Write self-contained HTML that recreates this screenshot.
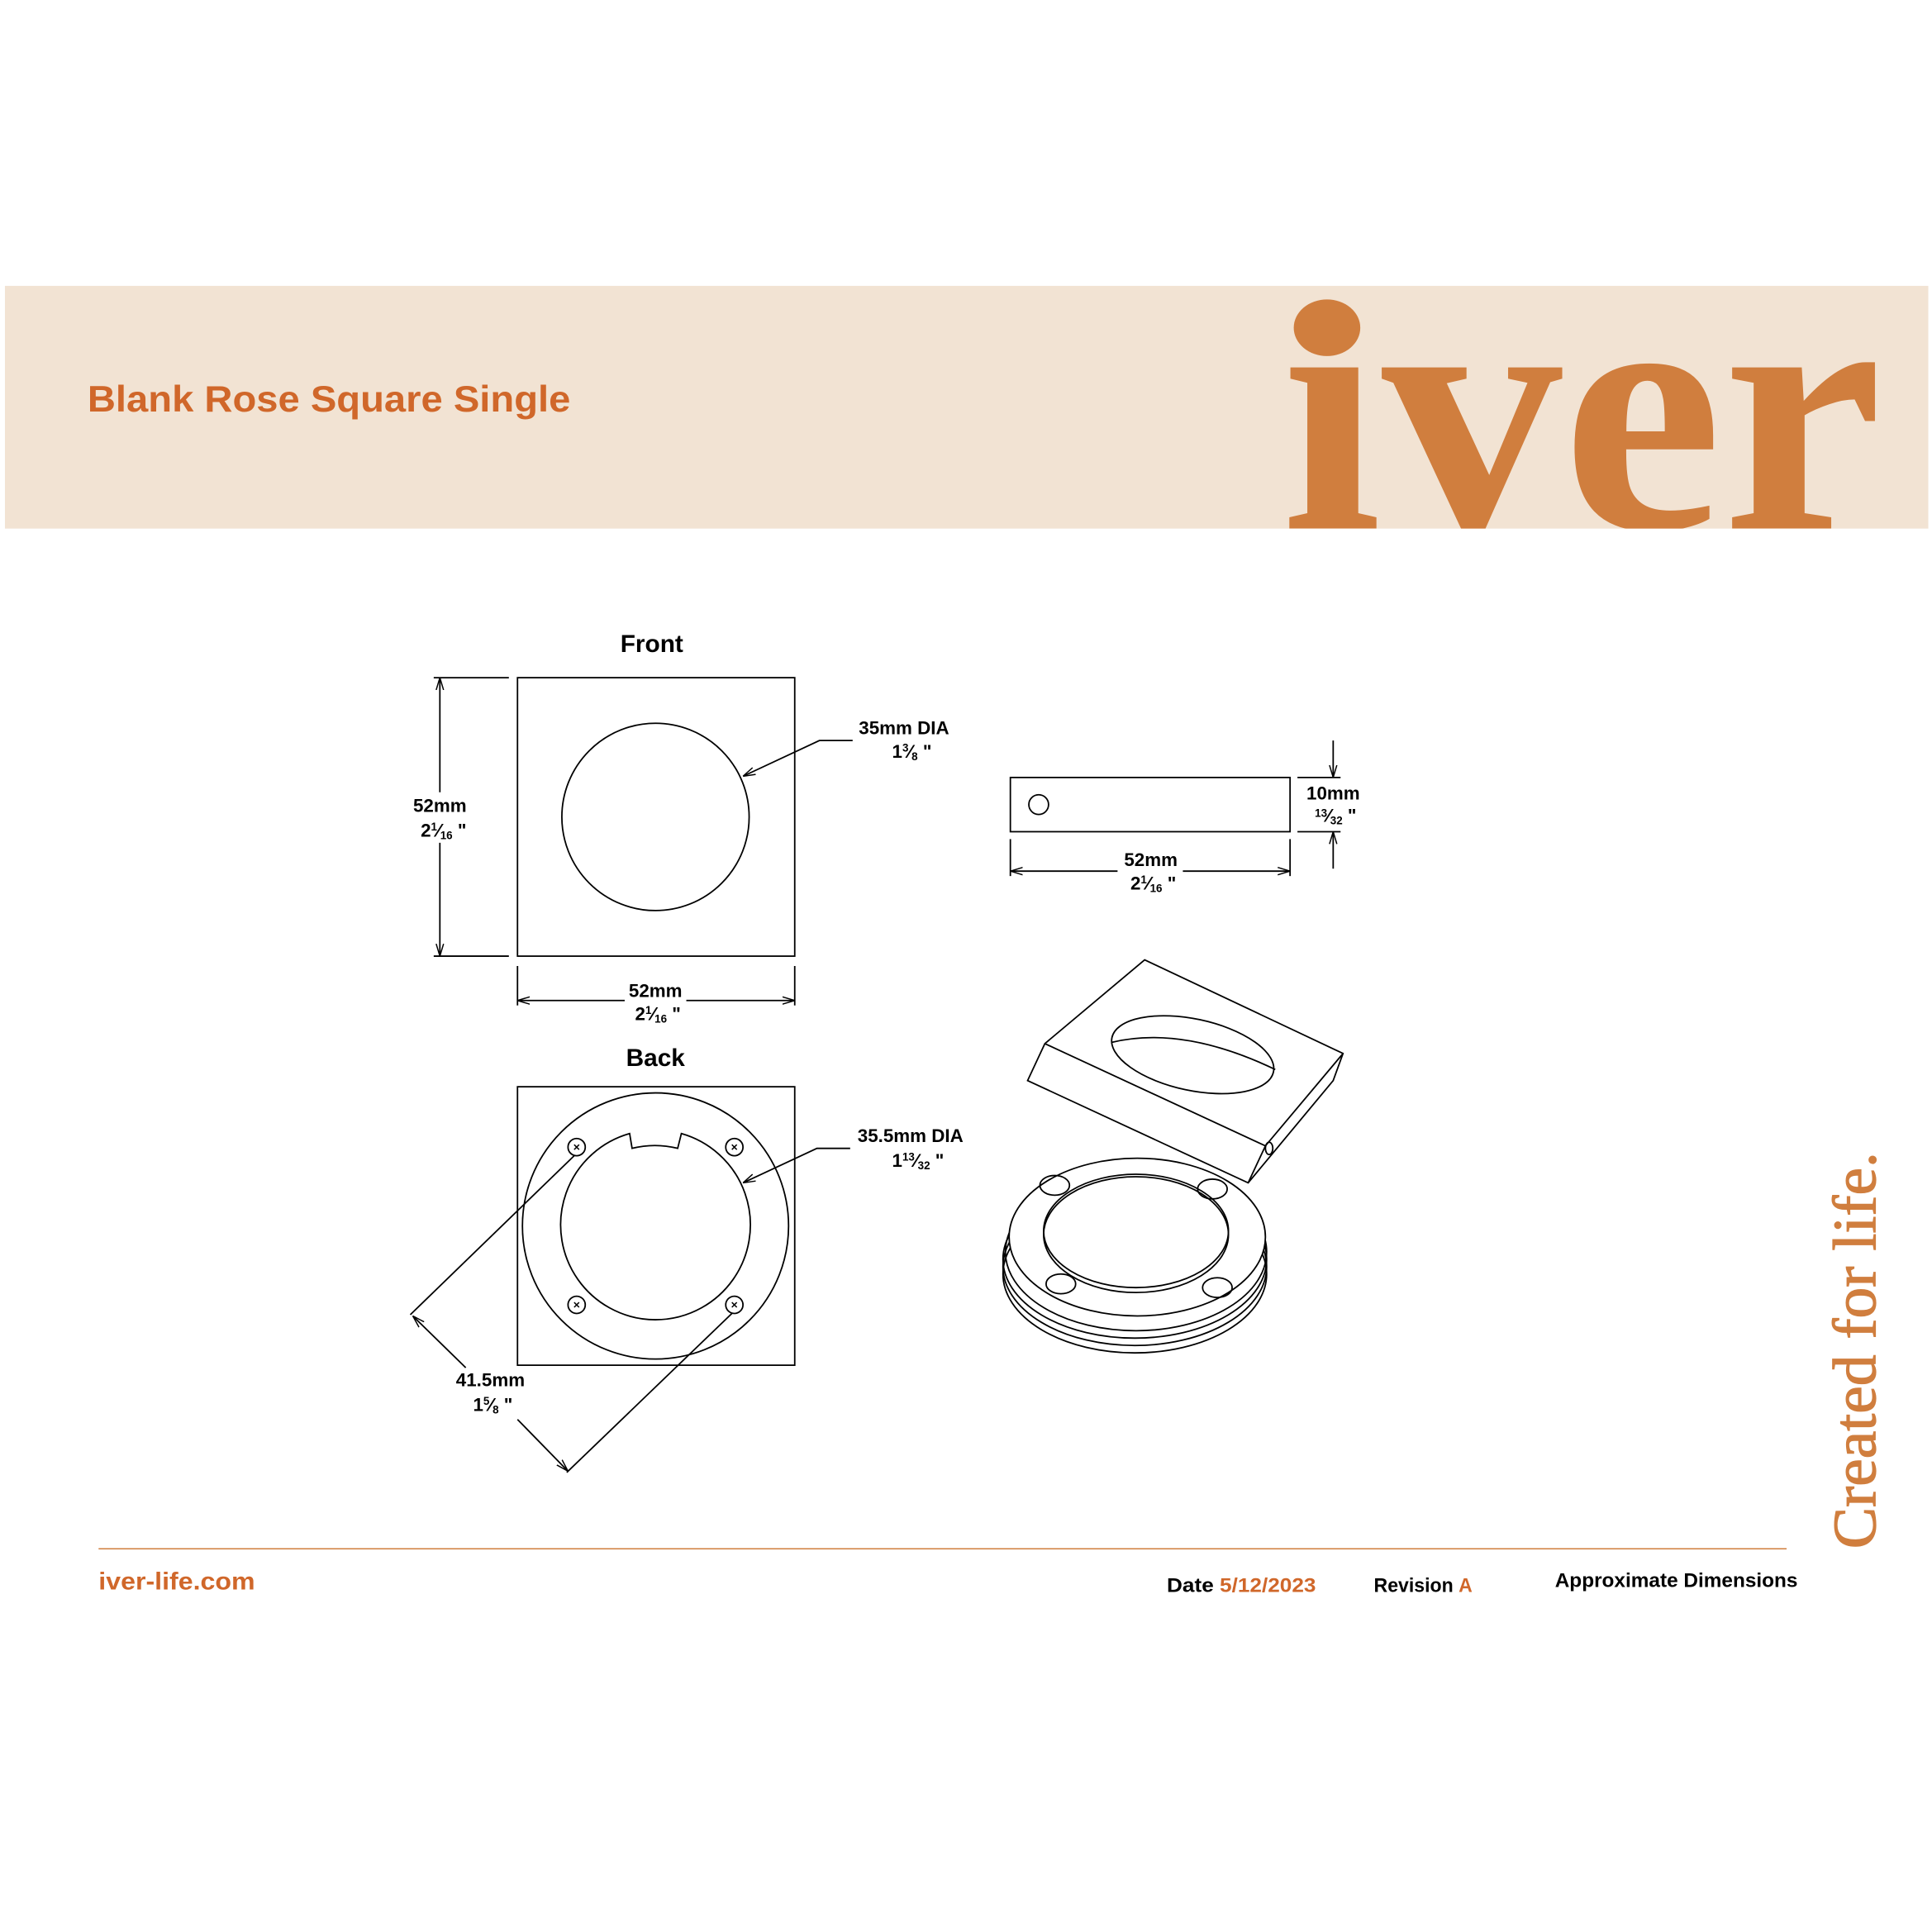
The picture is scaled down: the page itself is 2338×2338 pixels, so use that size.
<!DOCTYPE html>
<html><head><meta charset="utf-8"><style>
html,body{margin:0;padding:0;background:#fff}
svg{display:block}
.d{font-family:"Liberation Sans Narrow","Liberation Sans",sans-serif;font-weight:bold;font-size:15px;fill:#000}
.s{font-size:9px}
.h{font-family:"Liberation Sans",sans-serif;font-weight:bold}
</style></head><body>
<svg width="2338" height="2338" viewBox="0 0 1568 1568" xmlns="http://www.w3.org/2000/svg">
<defs><clipPath id="band"><rect x="4" y="232" width="1561" height="197"/></clipPath>
<marker id="a" viewBox="0 0 10 10" refX="10" refY="5" markerWidth="10" markerHeight="10" orient="auto-start-reverse" markerUnits="userSpaceOnUse"><path d="M0,2 L10,5 L0,8" fill="none" stroke="#000" stroke-width="1"/></marker></defs>
<rect x="4" y="232" width="1561" height="197" fill="#f2e3d3"/>
<text x="71" y="334" class="h" font-size="30" fill="#d0672a" textLength="392" lengthAdjust="spacingAndGlyphs">Blank Rose Square Single</text>
<g clip-path="url(#band)"><text x="1040" y="429" font-family="Liberation Serif,serif" font-weight="bold" font-size="285" fill="#d07e3e" textLength="488" lengthAdjust="spacingAndGlyphs">ıver</text>
<ellipse cx="1077" cy="266" rx="27" ry="23" fill="#d07e3e"/></g>

<g fill="none" stroke="#000" stroke-width="1.2">
<rect x="420" y="550" width="225" height="226"/>
<circle cx="532" cy="663" r="76"/>
<line x1="352" y1="550" x2="413" y2="550"/><line x1="352" y1="776" x2="413" y2="776"/>
<line x1="357" y1="550" x2="357" y2="643" marker-start="url(#a)"/><line x1="357" y1="684" x2="357" y2="776" marker-end="url(#a)"/>
<line x1="420" y1="784" x2="420" y2="816"/><line x1="645" y1="784" x2="645" y2="816"/>
<line x1="420" y1="812" x2="507" y2="812" marker-start="url(#a)"/><line x1="557" y1="812" x2="645" y2="812" marker-end="url(#a)"/>
<polyline points="692,601 665,601 603,630" marker-end="url(#a)"/>
<rect x="420" y="882" width="225" height="226"/>
<circle cx="532" cy="995" r="108"/>
<path d="M553,920 A77,77 0 1 1 511,920 L513,932 A76,76 0 0 1 550,932 Z"/>
<circle cx="468" cy="931" r="7"/><circle cx="596" cy="931" r="7"/><circle cx="468" cy="1059" r="7"/><circle cx="596" cy="1059" r="7"/>
<polyline points="690,932 663,932 603,960" marker-end="url(#a)"/>
<line x1="466" y1="938" x2="333" y2="1067"/><line x1="594" y1="1066" x2="460" y2="1195"/>
<line x1="378" y1="1110" x2="335" y2="1068" marker-end="url(#a)"/><line x1="420" y1="1152" x2="461" y2="1194" marker-end="url(#a)"/>
<rect x="820" y="631" width="227" height="44"/>
<circle cx="843" cy="653" r="8"/>
<line x1="1053" y1="631" x2="1088" y2="631"/><line x1="1053" y1="675" x2="1088" y2="675"/>
<line x1="1082" y1="601" x2="1082" y2="631" marker-end="url(#a)"/><line x1="1082" y1="705" x2="1082" y2="675" marker-end="url(#a)"/>
<line x1="820" y1="681" x2="820" y2="711"/><line x1="1047" y1="681" x2="1047" y2="711"/>
<line x1="820" y1="707" x2="907" y2="707" marker-start="url(#a)"/><line x1="960" y1="707" x2="1047" y2="707" marker-end="url(#a)"/>
<polygon points="929,779 1090,855 1082,877 1013,960 834,877 848,847"/>
<polyline points="848,847 1027,930 1090,855"/><line x1="1027" y1="930" x2="1013" y2="960"/>
<ellipse cx="1030" cy="932" rx="3" ry="5"/>
<ellipse cx="968" cy="856" rx="67" ry="29" transform="rotate(12 968 856)"/>
<path d="M902,846 Q960,832 1035,868" />
<ellipse cx="921" cy="1034" rx="107" ry="64"/>
<ellipse cx="921" cy="1028" rx="107" ry="64"/>
<ellipse cx="921" cy="1022" rx="107" ry="64"/>
<ellipse cx="922" cy="1016" rx="106" ry="64"/>
<ellipse cx="923" cy="1004" rx="104" ry="64" fill="#fff"/>
<ellipse cx="922" cy="1002" rx="75" ry="47"/>
<ellipse cx="922" cy="999" rx="75" ry="46"/>
<ellipse cx="856" cy="962" rx="12" ry="8"/><ellipse cx="984" cy="965" rx="12" ry="8"/>
<ellipse cx="861" cy="1042" rx="12" ry="8"/><ellipse cx="988" cy="1045" rx="12" ry="8"/>
</g>
<g stroke="#000" stroke-width="1"><path d="M466,929 l4,4 M470,929 l-4,4 M594,929 l4,4 M598,929 l-4,4 M466,1057 l4,4 M470,1057 l-4,4 M594,1057 l4,4 M598,1057 l-4,4"/></g>
<text x="529" y="529" text-anchor="middle" class="d" style="font-size:20px">Front</text>
<text x="532" y="865" text-anchor="middle" class="d" style="font-size:20px">Back</text>
<text x="357" y="659" text-anchor="middle" class="d">52mm</text>
<text x="360" y="679" text-anchor="middle" class="d">2<tspan class="s" dy="-5">1</tspan><tspan dy="5">⁄</tspan><tspan class="s" dy="2">16</tspan><tspan dy="-2"> "</tspan></text>
<text x="532" y="809" text-anchor="middle" class="d">52mm</text>
<text x="534" y="828" text-anchor="middle" class="d">2<tspan class="s" dy="-5">1</tspan><tspan dy="5">⁄</tspan><tspan class="s" dy="2">16</tspan><tspan dy="-2"> "</tspan></text>
<text x="697" y="596" class="d">35mm DIA</text>
<text x="724" y="615" class="d">1<tspan class="s" dy="-5">3</tspan><tspan dy="5">⁄</tspan><tspan class="s" dy="2">8</tspan><tspan dy="-2"> "</tspan></text>
<text x="696" y="927" class="d">35.5mm DIA</text>
<text x="724" y="947" class="d">1<tspan class="s" dy="-5">13</tspan><tspan dy="5">⁄</tspan><tspan class="s" dy="2">32</tspan><tspan dy="-2"> "</tspan></text>
<text x="398" y="1125" text-anchor="middle" class="d">41.5mm</text>
<text x="400" y="1145" text-anchor="middle" class="d">1<tspan class="s" dy="-5">5</tspan><tspan dy="5">⁄</tspan><tspan class="s" dy="2">8</tspan><tspan dy="-2"> "</tspan></text>
<text x="1082" y="649" text-anchor="middle" class="d">10mm</text>
<text x="1084" y="667" text-anchor="middle" class="d"><tspan class="s" dy="-4">13</tspan><tspan dy="4">⁄</tspan><tspan class="s" dy="2">32</tspan><tspan dy="-2"> "</tspan></text>
<text x="934" y="703" text-anchor="middle" class="d">52mm</text>
<text x="936" y="722" text-anchor="middle" class="d">2<tspan class="s" dy="-5">1</tspan><tspan dy="5">⁄</tspan><tspan class="s" dy="2">16</tspan><tspan dy="-2"> "</tspan></text>

<line x1="80" y1="1257" x2="1450" y2="1257" stroke="#d07e3e" stroke-width="1"/>
<text x="80" y="1290" class="h" font-size="20" fill="#d0672a" textLength="127" lengthAdjust="spacingAndGlyphs">iver-life.com</text>
<text x="947" y="1292" class="h" font-size="16" fill="#000" textLength="121" lengthAdjust="spacingAndGlyphs">Date <tspan fill="#d0672a">5/12/2023</tspan></text>
<text x="1115" y="1292" class="h" font-size="16" fill="#000" textLength="80" lengthAdjust="spacingAndGlyphs">Revision <tspan fill="#d0672a">A</tspan></text>
<text x="1262" y="1288" class="h" font-size="16" fill="#000" textLength="197" lengthAdjust="spacingAndGlyphs">Approximate Dimensions</text>
<text transform="translate(1522,1257) rotate(-90)" font-family="Liberation Serif,serif" font-size="50" fill="#d07e3e" stroke="#d07e3e" stroke-width="0.8" textLength="322" lengthAdjust="spacingAndGlyphs">Created for life.</text>
</svg>
</body></html>
